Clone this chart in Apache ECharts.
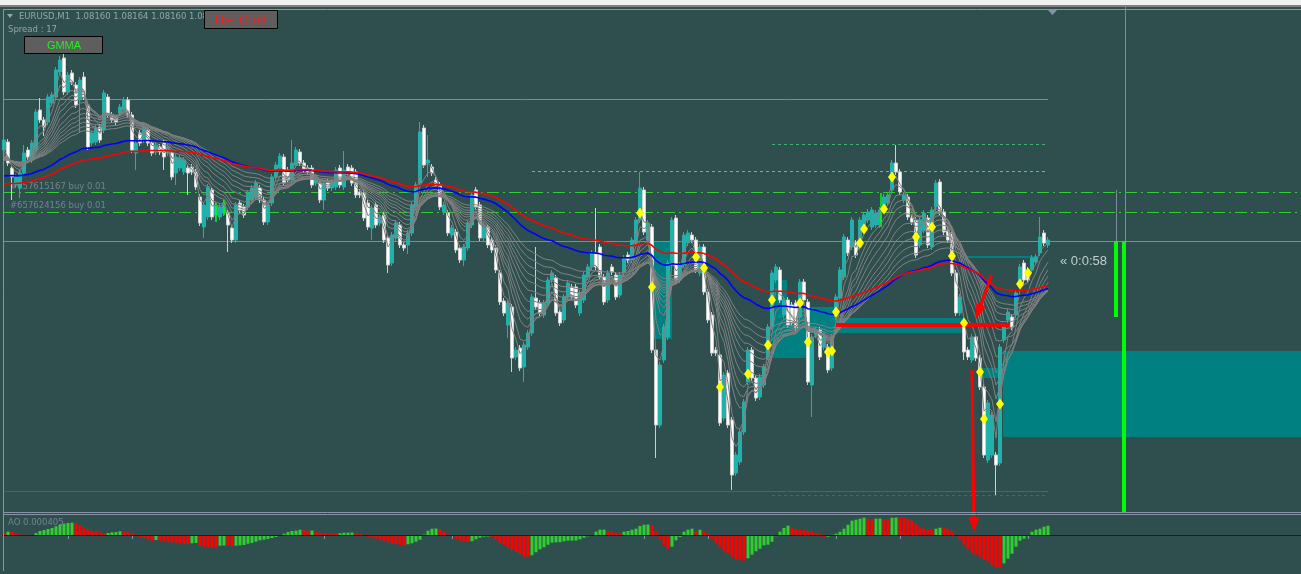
<!DOCTYPE html>
<html><head><meta charset="utf-8">
<script src="https://cdn.jsdelivr.net/npm/echarts@6/dist/echarts.min.js"></script>
<style>html,body{margin:0;padding:0;background:#2f4f4f;overflow:hidden}#c{width:1301px;height:574px}</style>
</head><body><div id="c"></div>
<script>
// Prices are in points above 1.08000 (1 point = 0.00001). Bar index = M1 candle number.
const candles = [ // [open, close, low, high]
[251,261,248,264],[259,238,235,262],[233,224,201,236],[216,224,213,227],[213,228,203,231],[228,248,225,256],[251,244,241,254],[241,258,238,261],[251,289,248,292],[291,281,278,303],
[281,274,265,284],[279,304,276,307],[298,306,295,309],[304,331,301,334],[329,341,326,345],[343,309,306,351],[309,326,306,329],[328,319,316,331],[316,296,293,319],[301,321,268,324],
[324,304,301,329],[296,254,251,299],[258,268,255,271],[259,273,256,276],[274,261,258,277],[271,308,268,311],[304,286,283,307],[286,281,278,289],[283,279,276,286],[288,294,285,297],
[291,301,288,304],[301,286,283,304],[286,251,248,289],[248,258,231,261],[268,258,255,271],[261,274,258,277],[271,258,255,274],[258,248,245,261],[249,256,246,259],[254,249,246,257],
[258,244,231,261],[248,254,245,257],[248,224,221,251],[228,244,216,247],[233,243,230,246],[229,241,226,244],[233,228,206,236],[234,229,226,237],[229,214,211,232],[204,178,175,207],
[174,196,163,199],[184,214,181,217],[211,184,181,214],[186,196,183,199],[184,194,181,197],[188,198,185,201],[188,176,149,191],[173,161,158,176],[161,196,158,199],[198,191,188,201],
[194,186,183,197],[194,208,191,211],[201,213,198,216],[204,218,201,221],[213,201,198,216],[201,179,176,204],[179,196,176,199],[198,224,195,227],[224,236,221,239],[233,245,230,248],
[244,218,215,247],[231,221,218,234],[221,238,218,261],[236,251,233,254],[249,238,235,252],[238,231,228,241],[233,229,226,236],[233,216,213,236],[218,221,215,224],[218,201,198,221],
[201,218,191,221],[219,213,210,222],[213,219,210,222],[214,231,211,234],[233,216,213,236],[214,231,211,250],[234,229,226,237],[233,218,215,236],[229,206,203,232],[209,206,203,212],
[208,183,180,211],[198,174,171,201],[173,193,161,196],[196,176,173,199],[178,184,175,187],[186,161,158,189],[163,136,128,166],[138,166,135,169],[163,178,160,181],[176,156,153,179],
[156,153,150,159],[156,168,147,171],[168,196,165,199],[194,216,191,219],[218,269,215,279],[273,236,233,276],[238,241,224,266],[234,228,225,237],[221,216,213,224],[216,194,191,219],
[189,196,186,199],[188,168,165,191],[166,173,163,176],[169,151,148,172],[153,141,138,156],[141,154,135,157],[153,178,150,181],[176,206,173,209],[211,194,191,214],[196,163,160,199],
[163,174,160,177],[174,156,153,177],[161,151,148,164],[153,131,128,156],[128,99,96,131],[100,88,85,103],[76,98,63,101],[94,43,29,97],[44,51,41,54],[53,33,30,56],
[34,56,19,59],[54,68,51,71],[68,104,65,107],[103,94,91,154],[98,88,85,101],[86,98,83,101],[98,121,95,124],[121,128,118,131],[123,88,85,126],[89,78,75,92],
[81,104,78,107],[104,118,101,121],[114,104,101,117],[114,96,93,117],[88,108,85,111],[101,126,98,129],[124,134,121,137],[134,148,131,151],[148,134,131,193],[154,124,121,157],
[124,99,96,127],[101,128,98,131],[134,129,126,137],[126,104,101,129],[106,126,103,129],[128,143,125,146],[146,141,138,149],[141,161,138,164],[158,181,155,184],[181,213,178,229],
[211,169,166,214],[161,178,158,181],[174,51,48,177],[51,-24,-57,54],[-24,36,-27,39],[41,74,38,77],[64,138,61,141],[136,181,133,184],[183,121,118,186],[121,136,118,139],
[136,166,133,169],[158,168,155,171],[166,161,158,169],[161,131,128,164],[128,154,125,157],[154,109,106,157],[109,81,78,112],[86,48,45,89],[51,48,45,54],[46,-22,-25,49],
[-17,26,-20,29],[28,-24,-27,31],[-19,-74,-89,-16],[-72,-54,-75,-51],[-61,-31,-64,-28],[-31,-1,-34,2],[19,51,16,54],[51,23,20,54],[23,3,0,26],[4,24,1,27],
[16,34,13,37],[44,74,41,77],[74,128,71,131],[121,134,118,137],[131,101,98,134],[86,101,83,104],[101,76,73,104],[96,78,75,99],[98,73,70,101],[84,119,81,122],
[119,101,98,122],[99,19,16,102],[16,64,-16,67],[66,71,63,74],[71,44,41,74],[54,64,51,67],[54,31,28,57],[33,64,30,67],[84,104,81,107],[103,131,100,134],
[124,164,121,167],[161,148,145,164],[154,181,151,184],[158,146,143,161],[154,181,151,184],[171,186,168,189],[181,189,178,192],[174,191,171,194],[176,188,173,191],[176,191,173,194],
[191,204,188,207],[198,206,195,209],[211,238,208,241],[238,229,226,256],[229,209,206,232],[201,206,198,209],[204,184,181,207],[183,179,176,186],[181,146,143,184],[156,181,153,184],
[171,188,168,191],[183,156,153,186],[154,191,151,194],[194,218,191,221],[219,189,186,222],[189,169,166,192],[171,161,158,174],[168,128,125,171],[128,88,85,131],[88,104,85,107],
[79,49,41,82],[51,44,41,54],[41,64,38,67],[64,43,40,67],[43,14,11,46],[14,-54,-57,17],[-59,-2,-62,1],[-54,-14,-57,-11],[-54,-64,-94,-51],[-62,54,-65,57],
[61,74,58,77],[81,89,78,92],[84,74,71,87],[86,108,83,111],[118,134,115,137],[138,121,118,141],[131,121,118,134],[131,143,128,146],[139,144,136,147],[148,164,145,184],
[168,158,155,171],[156,161,153,164]
];
// Awesome Oscillator, in units of 0.00001
const ao = [
2,3.3,3.0,1.3,0.5,0.2,-1.3,-0.5,2,4, 5,6,7,8.7,10,11.3,12,12.3,11.7,10, 8,6,4,3.3,2.7,1.7,2.0,2.7,2.9,3.7,
3.3,2.7,2,0.5,-2,-3,-4.3,-5.7,-5,-5.7, -6.3,-7,-7.3,-7.7,-8.3,-8.7,-9,-8.3,-8,-11, -11.7,-12,-12.3,-12.6,-10.7,-10.5,-11,-11.3,-10.7,-10.3,
-10,-8.7,-8,-6.7,-5.3,-4.7,-4,-3,-2,-0.7, 1.3,3,4,4.3,5.3,4.8,4.3,4.5,3,2.3, 2,1.9,1.8,1.7,1.8,2.3,2.4,2.5,2,1.7,
0.3,-2,-3,-3.7,-4.3,-5.7,-7,-8,-9,-10.3, -10.5,-9.3,-8.3,-6.7,-4.7,0.5,4.3,6.3,6.4,5.7, 3.3,0.3,-1,-3.7,-5.7,-6.3,-6.5,-6.2,-4.3,-2.7,
-1.7,-1.5,-2,-4.3,-7.7,-9.7,-12.3,-15,-17,-19, -21.7,-21.9,-20.3,-17.3,-14.3,-12.3,-9.7,-7.7,-7.3,-7.2, -6.3,-5.7,-5.6,-5.5,-4.3,-2.7,-1.3,-0.3,3.3,5.3,
5.4,4,3.9,2.3,1.7,3.3,4,5.3,6.3,9, 10.3,10.4,9.3,3.3,-4,-10.3,-13.7,-11.7,-5.3,-2, 3.3,5.3,6.3,4,5.3,3.3,1.3,-3.7,-7.7,-11.7,
-15.7,-18.7,-21.7,-24.3,-24.4,-25.7,-23.3,-19.7,-16.3,-13.7, -10.3,-9.7,-6.7,-1.3,3.3,7,9.3,8,5.3,5.2, 5.0,4,3.3,2,1.3,-2,-1.7,0.3,1.3,3.3,
6.3,10.3,14.3,15.3,16.3,17.3,16.3,15.3,16.3,16.4, 15.3,15.2,17.3,17.4,17.3,17.2,16.3,14.3,11.3,8.3, 6.3,5.3,5.2,6.3,7.3,7.2,6.3,4,0.3,-4.7,
-9.7,-13.7,-17.7,-19.7,-21.7,-24.7,-26.3,-29.7,-32.3,-32.4, -28.3,-23.7,-18.7,-11.7,-5.7,-3.7,-1.3,3.3,5.3,6.3, 8.3,9.3
];
const gmmaPeriods = [3,5,8,10,12,15,19,23,27,32,38,45];
const gmmaSeed = 240;
const blueMA = {period: 70, seed: 224};
const redMA = {period: 95, seed: 216};
// chart objects (bar index, price)
const tpLevel = {price: 302, from: -0.25, to: 261};
const orderLevels = [209, 189];
const orderLabels = ['#657615167 buy 0.01', '#657624156 buy 0.01'];
const bidPrice = 160;
const lowLevel = {price: -90, from: -0.25, to: 261};
const dottedGreen = {price: 257, from: 192, to: 260.25};
const dottedGray = {price: 230, from: 132, to: 260.25};
const dottedRed = {price: -94, from: 192, to: 260.25};
const zones = [[162.25,167,159,62],[192,195.75,121,94],[192,208,94,68],[192,201,68,43],[208,240,83,68],[244,249.75,33,23],[249.75,324.5,50,-36]];
const zoneEdge = [[240.25,144,258.25,144]];
const redLevel = [[208,76,251.5,76]];
const redArrows = [[246.9,126,242.9,82],[242,31,242.5,-131]];
const signals = [[159,188],[162,114],[173,144],[175,133],[179,14],[186,27],[191,56],[192,101],[199,98],[201,59],[206,49],[207,50],[208,89],[214,158],[215,172],[220,192],[222,224],[228,164],[232,174],[237,145],[240,78],[244,29],[245,-18],[249,-3],[254,117],[256,128]];
const limeTicks = [[53,198,53,179],[55,201,55,186],[219.25,208,219.25,174]];
const greenBars = [[278,160,278,84],[280,160,280,-111]];
const grayVLines = [[278,211,278,160],[280.25,394,280.25,160]];
const totalSlots = 325;
const categories = [];
for (let i = 0; i < totalSlots; i++) { const m = 13*60 + i; categories.push(String(Math.floor(m/60)%24).padStart(2,'0') + ':' + String(m%60).padStart(2,'0')); }

const closes = candles.map(c => c[1]);
function ema(period, seed) {
  const a = 2 / (period + 1); let e = seed;
  return closes.map(c => { e = e + a * (c - e); return +e.toFixed(2); });
}

function crisp(v, w) { return (Math.round(w) % 2 === 1) ? Math.floor(v) + 0.5 : Math.round(v); }
function segSeries(data, style, z, arrow) {
  return {
    type: 'custom', xAxisIndex: 1, yAxisIndex: 0, z: z, silent: true, clip: false,
    encode: {x: [0, 2], y: [1, 3]}, data: data,
    renderItem: function (params, api) {
      const a = api.coord([api.value(0), api.value(1)]);
      const b = api.coord([api.value(2), api.value(3)]);
      const w = style.lineWidth || 1;
      if (Math.abs(a[1] - b[1]) < 0.01) { a[1] = b[1] = crisp(a[1], w); }
      if (Math.abs(a[0] - b[0]) < 0.01) { a[0] = b[0] = crisp(a[0], w); }
      const children = [];
      let x2 = b[0], y2 = b[1];
      if (arrow) {
        const dx = b[0] - a[0], dy = b[1] - a[1], L = Math.sqrt(dx*dx + dy*dy);
        const ux = dx / L, uy = dy / L, hl = arrow[0], hw = arrow[1] / 2;
        const bx = b[0] - ux * hl, by = b[1] - uy * hl;
        x2 = bx + ux; y2 = by + uy;
        children.push({type: 'polygon', shape: {points: [[b[0], b[1]], [bx - uy * hw, by + ux * hw], [bx + uy * hw, by - ux * hw]]}, style: {fill: style.stroke}});
      }
      children.unshift({type: 'line', shape: {x1: a[0], y1: a[1], x2: x2, y2: y2}, style: {stroke: style.stroke, lineWidth: w, lineDash: style.lineDash || null, fill: null, opacity: 1}});
      return {type: 'group', children: children};
    }
  };
}
function lvl(level, color, dash) {
  return [{coord: [level.from, level.price], lineStyle: {color: color, width: 1, type: dash || 'solid', opacity: 1}}, {coord: [level.to, level.price]}];
}

const series = [];
// zones
series.push({
  type: 'custom', xAxisIndex: 1, yAxisIndex: 0, z: 1, silent: true, clip: false,
  encode: {x: [0, 1], y: [2, 3]}, data: zones,
  renderItem: function (params, api) {
    const p0 = api.coord([api.value(0), api.value(2)]);
    const p1 = api.coord([api.value(1), api.value(3)]);
    return {type: 'rect', shape: {x: Math.round(p0[0]), y: Math.round(p0[1]), width: Math.round(p1[0]) - Math.round(p0[0]), height: Math.round(p1[1]) - Math.round(p0[1])}, style: {fill: '#008080'}};
  }
});
series.push(segSeries(zoneEdge, {stroke: '#008080', lineWidth: 2}, 1));
// price levels as markLines
series.push({
  type: 'scatter', xAxisIndex: 1, yAxisIndex: 0, z: 2, silent: true, data: [], symbolSize: 0,
  markLine: {
    silent: true, symbol: 'none', label: {show: false}, animation: false, z: 2,
    data: [
      lvl(tpLevel, '#3cb371'),
      lvl({price: orderLevels[0], from: -0.25, to: 324.5}, '#32cd32', [12, 4, 2, 4]),
      lvl({price: orderLevels[1], from: -0.25, to: 324.5}, '#32cd32', [12, 4, 2, 4]),
      lvl({price: bidPrice, from: -0.25, to: 324.5}, '#7d8b99'),
      lvl(lowLevel, '#b8304a'),
      lvl(dottedGreen, '#3cb371', [3, 3]),
      lvl(dottedGray, '#8fa3a3', [3, 3]),
      lvl(dottedRed, '#e0203c', [3, 3])
    ]
  }
});
series.push(segSeries(grayVLines, {stroke: '#7d8b99', lineWidth: 1}, 2));
series.push(segSeries(greenBars, {stroke: '#00ff00', lineWidth: 4}, 3));
// candles
series.push({
  type: 'candlestick', xAxisIndex: 0, yAxisIndex: 0, z: 3, barWidth: 3, silent: true,
  data: candles,
  itemStyle: {color: '#20b2aa', color0: '#ffffff', borderColor: '#20b2aa', borderColor0: '#cfcfcf', borderWidth: 1}
});
series.push(segSeries(limeTicks, {stroke: '#00ff00', lineWidth: 1.5}, 4));
// GMMA
gmmaPeriods.forEach(p => series.push({
  type: 'line', xAxisIndex: 0, yAxisIndex: 0, z: 4, silent: true, showSymbol: false, symbol: 'none',
  data: ema(p, gmmaSeed), lineStyle: {color: '#808080', width: 1}
}));
series.push({type: 'line', xAxisIndex: 0, yAxisIndex: 0, z: 5, silent: true, symbol: 'none', data: ema(blueMA.period, blueMA.seed), lineStyle: {color: '#0000ff', width: 1.6}});
series.push({type: 'line', xAxisIndex: 0, yAxisIndex: 0, z: 5, silent: true, symbol: 'none', data: ema(redMA.period, redMA.seed), lineStyle: {color: '#ff0000', width: 1.6}});
// red marks
series.push(segSeries(redLevel, {stroke: '#ff0000', lineWidth: 4}, 6));
series.push(segSeries(redArrows, {stroke: '#ff0000', lineWidth: 3}, 7, [15, 11]));
// signals
series.push({type: 'scatter', xAxisIndex: 1, yAxisIndex: 0, z: 8, silent: true, data: signals, symbol: 'diamond', symbolSize: [8, 11], itemStyle: {color: '#ffff00', opacity: 1}});
// AO
series.push({
  type: 'bar', xAxisIndex: 2, yAxisIndex: 1, barWidth: 3, silent: true, z: 3,
  data: ao.map((v, i) => ({value: v, itemStyle: {color: (i > 0 && v > ao[i-1]) ? '#32cd32' : '#ff0000'}})),
  markLine: {silent: true, symbol: 'none', label: {show: false}, lineStyle: {color: '#0000ff', width: 1, type: 'solid'}, data: [{yAxis: 0}]}
});

const txt = '#97a5a9', fnt = '"DejaVu Sans", sans-serif';
const graphic = [
  {type: 'rect', shape: {x: 0, y: 0, width: 1301, height: 5}, style: {fill: '#f0f0f0'}, z: 50},
  {type: 'rect', shape: {x: 0, y: 5, width: 1301, height: 2}, style: {fill: '#808080'}, z: 50},
  {type: 'line', shape: {x1: 3, y1: 9.5, x2: 1301, y2: 9.5}, style: {stroke: '#8893a5', lineWidth: 1}, z: 50},
  {type: 'line', shape: {x1: 3.5, y1: 9.5, x2: 3.5, y2: 571}, style: {stroke: '#8893a5', lineWidth: 1}, z: 50},
  {type: 'line', shape: {x1: 3, y1: 512.5, x2: 1301, y2: 512.5}, style: {stroke: '#8893a5', lineWidth: 1}, z: 50},
  {type: 'line', shape: {x1: 3, y1: 514.5, x2: 1301, y2: 514.5}, style: {stroke: '#8893a5', lineWidth: 1}, z: 50},
  {type: 'polygon', shape: {points: [[7, 14], [13, 14], [10, 18]]}, style: {fill: txt}, z: 60},
  {type: 'text', x: 19, y: 17, style: {text: 'EURUSD,M1  1.08160 1.08164 1.08160 1.08160', fill: txt, font: '8.5px ' + fnt, verticalAlign: 'middle'}, z: 60},
  {type: 'text', x: 8, y: 30, style: {text: 'Spread : 17', fill: txt, font: '8.5px ' + fnt, verticalAlign: 'middle'}, z: 60},
  {type: 'rect', shape: {x: 24.5, y: 36.5, width: 78, height: 17}, style: {fill: '#5e5e5e', stroke: '#000000', lineWidth: 1}, z: 70},
  {type: 'text', x: 64, y: 45.5, style: {text: 'GMMA', fill: '#22ee22', font: '11px "Liberation Sans", Arial, sans-serif', align: 'center', verticalAlign: 'middle'}, z: 71},
  {type: 'rect', shape: {x: 204.5, y: 10.5, width: 73, height: 18}, style: {fill: '#5e5e5e', stroke: '#000000', lineWidth: 1}, z: 70},
  {type: 'text', x: 241, y: 20, style: {text: 'Hi-LO off', fill: '#ff1a1a', font: '13px "Liberation Sans", Arial, sans-serif', align: 'center', verticalAlign: 'middle'}, z: 71},
  {type: 'polygon', shape: {points: [[1048, 10], [1057, 10], [1052.5, 15]]}, style: {fill: '#8893a5'}, z: 60},
  {type: 'text', x: 10, y: 186.5, style: {text: orderLabels[0], fill: '#71848c', font: '8.5px ' + fnt, verticalAlign: 'middle'}, z: 1},
  {type: 'text', x: 10, y: 205.5, style: {text: orderLabels[1], fill: '#71848c', font: '8.5px ' + fnt, verticalAlign: 'middle'}, z: 1},
  {type: 'text', x: 8, y: 523, style: {text: 'AO 0.000405', fill: '#71848c', font: '8.5px ' + fnt, verticalAlign: 'middle'}, z: 60},
  {type: 'text', x: 1060, y: 261, style: {text: '\u00ab 0:0:58', fill: '#c4cccc', font: '13px "Liberation Sans", Arial, sans-serif', verticalAlign: 'middle'}, z: 60}
];

const chart = echarts.init(document.getElementById('c'), null, {renderer: 'canvas'});
chart.setOption({
  backgroundColor: '#2f4f4f',
  animation: false,
  tooltip: {show: false},
  grid: [
    {left: 2, top: 7, width: 1300, height: 505, containLabel: false, outerBoundsMode: 'none'},
    {left: 2, top: 515, width: 1300, height: 55, containLabel: false, outerBoundsMode: 'none'}
  ],
  xAxis: [
    {type: 'category', gridIndex: 0, data: categories, boundaryGap: true, show: false},
    {type: 'value', gridIndex: 0, min: -0.5, max: totalSlots - 0.5, show: false},
    {type: 'category', gridIndex: 1, data: categories, boundaryGap: true,
      axisLine: {show: true, lineStyle: {color: '#8893a5', width: 1}},
      axisTick: {show: true, length: 4, alignWithLabel: true, lineStyle: {color: '#8893a5'}, interval: function (i) { return i > 0 && i <= 256 && i % 16 === 0; }},
      axisLabel: {show: false}, splitLine: {show: false}}
  ],
  yAxis: [
    {type: 'value', gridIndex: 0, min: -111, max: 394, show: false},
    {type: 'value', gridIndex: 1, min: -35, max: 20, show: false}
  ],
  graphic: graphic,
  series: series
});
</script>
</body></html>
